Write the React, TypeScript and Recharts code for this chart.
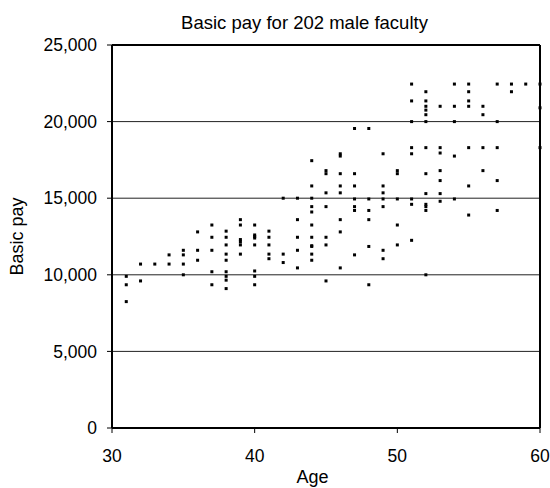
import { ScatterChart, Scatter, XAxis, YAxis, CartesianGrid, ReferenceLine } from 'recharts'

// age of each faculty member (column by column)
const ages = [
  31, 31, 31,
  32, 32,
  33,
  34, 34,
  35, 35, 35, 35,
  36, 36, 36,
  37, 37, 37, 37, 37,
  38, 38, 38, 38, 38, 38, 38, 38, 38,
  39, 39, 39, 39, 39, 39,
  40, 40, 40, 40, 40, 40, 40, 40,
  41, 41, 41, 41, 41,
  42, 42, 42,
  43, 43, 43, 43, 43,
  44, 44, 44, 44, 44, 44, 44, 44, 44, 44, 44,
  45, 45, 45, 45, 45, 45, 45,
  46, 46, 46, 46, 46, 46, 46, 46,
  47, 47, 47, 47, 47, 47, 47,
  48, 48, 48, 48, 48, 48,
  49, 49, 49, 49, 49, 49, 49,
  50, 50, 50, 50, 50,
  51, 51, 51, 51, 51, 51, 51, 51,
  52, 52, 52, 52, 52, 52, 52, 52, 52, 52, 52, 52, 52,
  53, 53, 53, 53, 53, 53, 53,
  54, 54, 54, 54, 54,
  55, 55, 55, 55, 55, 55, 55,
  56, 56, 56, 56,
  57, 57, 57, 57, 57,
  58, 58,
  59,
  60, 60, 60,
]

// basic pay, same order as ages
const basicPay = [
  9900, 9350, 8250,
  10700, 9600,
  10700,
  11300, 10700,
  11600, 11300, 10700, 10000,
  12800, 11600, 10950,
  13250, 12450, 11600, 10200, 9350,
  12850, 12450, 11950, 11350, 10950, 10200, 9900, 9650, 9100,
  13600, 13250, 12300, 12150, 11950, 11350,
  13250, 12600, 12500, 12400, 11950, 10250, 9900, 9350,
  12850, 12450, 11950, 11350, 11050,
  15000, 11350, 10800,
  15000, 13600, 12450, 11600, 10450,
  17450, 15800, 15000, 14450, 14100, 13250, 12450, 11900, 11850, 11350, 10950,
  16800, 16600, 15350, 14450, 12450, 11950, 9600,
  17900, 17750, 16600, 15800, 15350, 13600, 12800, 10450,
  19550, 16600, 15800, 14950, 14450, 14200, 11300,
  19550, 14950, 14200, 13600, 11850, 9350,
  17900, 15800, 15350, 14950, 14450, 11600, 11050,
  16800, 16600, 14950, 13250, 11950,
  22450, 21350, 20000, 18300, 17900, 14950, 14600, 12250,
  21950, 21350, 21000, 20750, 20450, 20000, 18300, 16600, 15300, 14600, 14450, 14200, 10000,
  21000, 18300, 17950, 16800, 16150, 15300, 14800,
  22450, 21000, 20000, 17750, 14950,
  22450, 21950, 21350, 21000, 18300, 15800, 13900,
  21000, 20450, 18300, 16800,
  22450, 20000, 18300, 16150, 14200,
  22450, 21950,
  22450,
  22450, 20900, 18300,
]

const xTicks = [30, 40, 50, 60]
const yTicks = [0, 5000, 10000, 15000, 20000, 25000]

const font = 'Liberation Sans, Arial, sans-serif'

const points = ages.map((age, i) => ({ age, pay: basicPay[i] }))

function Dot(props: any) {
  const { cx, cy } = props
  return <rect x={cx - 1.5} y={cy - 1.5} width={3} height={3} fill="#000" />
}

export default function App() {
  return (
    <div style={{ position: 'absolute', left: 0, top: 0, width: 550, height: 488, overflow: 'hidden', fontFamily: font }}>
      <div
        style={{
          position: 'absolute',
          top: 12,
          left: 304.5,
          transform: 'translateX(-50%)',
          whiteSpace: 'nowrap',
          fontSize: 18.5,
          lineHeight: 'normal',
          color: '#000',
        }}
      >
        Basic pay for 202 male faculty
      </div>
      <ScatterChart width={550} height={488} margin={{ top: 45, right: 10, bottom: 0, left: 0 }}>
        <CartesianGrid vertical={false} stroke="#222" strokeWidth={1} />
        <XAxis
          type="number"
          dataKey="age"
          domain={[30, 60]}
          ticks={xTicks}
          height={60}
          tickSize={5}
          tickMargin={17}
          axisLine={{ stroke: '#000', strokeWidth: 2 }}
          tickLine={{ stroke: '#000' }}
          tick={{ fill: '#000', fontSize: 17.5, fontFamily: font }}
          label={{
            value: 'Age',
            position: 'insideBottom',
            offset: 5,
            dx: -13.5,
            style: { fill: '#000', fontSize: 18, fontFamily: font },
          }}
        />
        <YAxis
          type="number"
          dataKey="pay"
          domain={[0, 25000]}
          ticks={yTicks}
          width={112}
          tickSize={5}
          tickMargin={10}
          axisLine={{ stroke: '#000', strokeWidth: 2 }}
          tickLine={{ stroke: '#000' }}
          tick={{ fill: '#000', fontSize: 17.5, fontFamily: font }}
          tickFormatter={(v: number) => v.toLocaleString('en-US')}
          label={{
            value: 'Basic pay',
            angle: -90,
            position: 'insideLeft',
            offset: 17,
            style: { fill: '#000', fontSize: 18, fontFamily: font, textAnchor: 'middle' },
          }}
        />
        <ReferenceLine y={25000} stroke="#000" strokeWidth={2} />
        <ReferenceLine x={60} stroke="#000" strokeWidth={2} />
        <Scatter data={points} shape={<Dot />} isAnimationActive={false} />
      </ScatterChart>
    </div>
  )
}
